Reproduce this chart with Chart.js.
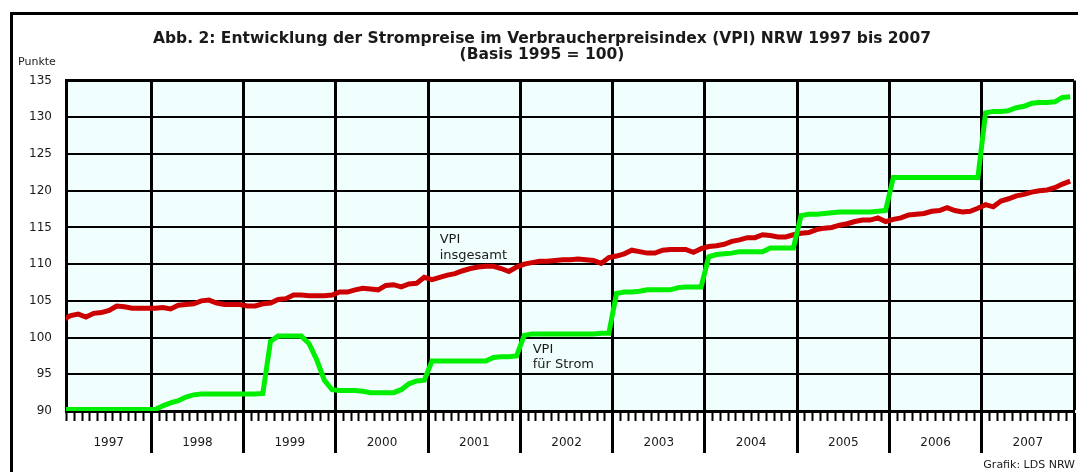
<!DOCTYPE html>
<html>
<head>
<meta charset="utf-8">
<script src="https://cdn.jsdelivr.net/npm/chart.js@4.4.1/dist/chart.umd.min.js"></script>
<style>
  html, body { margin: 0; padding: 0; background: #ffffff; overflow: hidden; }
  canvas { display: block; }
</style>
</head>
<body>
<canvas id="c" width="1078" height="472" style="width:1078px;height:472px"></canvas>
<script>
// ---------- data ----------
const years = [1997, 1998, 1999, 2000, 2001, 2002, 2003, 2004, 2005, 2006, 2007];
const yTicks = [90, 95, 100, 105, 110, 115, 120, 125, 130, 135];

// VPI insgesamt (monthly, Jan 1997 - Dec 2007)
const vpiTotal = [
  102.4, 103.0, 103.2, 102.8, 103.3, 103.4, 103.7, 104.3, 104.2, 104.0, 104.0, 104.0,
  104.0, 104.1, 103.9, 104.4, 104.5, 104.6, 105.0, 105.1, 104.7, 104.5, 104.5, 104.5,
  104.3, 104.3, 104.6, 104.7, 105.2, 105.3, 105.8, 105.8, 105.7, 105.7, 105.7, 105.8,
  106.2, 106.2, 106.5, 106.7, 106.6, 106.5, 107.1, 107.2, 106.9, 107.3, 107.4, 108.2,
  107.9, 108.2, 108.5, 108.7, 109.1, 109.4, 109.6, 109.7, 109.7, 109.4, 109.0, 109.6,
  110.0, 110.2, 110.4, 110.4, 110.5, 110.6, 110.6, 110.7, 110.6, 110.5, 110.1, 110.9,
  111.1, 111.4, 111.9, 111.7, 111.5, 111.5, 111.9, 112.0, 112.0, 112.0, 111.6, 112.1,
  112.4, 112.5, 112.7, 113.1, 113.3, 113.6, 113.6, 114.0, 113.9, 113.7, 113.7, 114.0,
  114.2, 114.3, 114.7, 114.9, 115.0, 115.3, 115.5, 115.8, 116.0, 116.0, 116.3, 115.8,
  116.1, 116.3, 116.7, 116.8, 116.9, 117.2, 117.3, 117.7, 117.3, 117.1, 117.2, 117.6,
  118.1, 117.8, 118.6, 118.9, 119.3, 119.5, 119.8, 120.0, 120.1, 120.4, 120.9, 121.3
];

// VPI für Strom (monthly, Jan 1997 - Dec 2007)
const vpiStrom = [
  90.2, 90.2, 90.2, 90.2, 90.2, 90.2, 90.2, 90.2, 90.2, 90.2, 90.2, 90.2,
  90.2, 90.7, 91.1, 91.4, 91.9, 92.2, 92.3, 92.3, 92.3, 92.3, 92.3, 92.3,
  92.3, 92.3, 92.4, 99.5, 100.2, 100.2, 100.2, 100.2, 99.2, 97.0, 94.2, 92.9,
  92.8, 92.8, 92.8, 92.7, 92.5, 92.5, 92.5, 92.5, 92.9, 93.7, 94.1, 94.2,
  96.8, 96.8, 96.8, 96.8, 96.8, 96.8, 96.8, 96.8, 97.3, 97.4, 97.4, 97.5,
  100.3, 100.5, 100.5, 100.5, 100.5, 100.5, 100.5, 100.5, 100.5, 100.5, 100.6, 100.6,
  106.0, 106.2, 106.2, 106.3, 106.5, 106.5, 106.5, 106.5, 106.8, 106.9, 106.9, 106.9,
  111.0, 111.3, 111.4, 111.5, 111.7, 111.7, 111.7, 111.7, 112.2, 112.2, 112.2, 112.2,
  116.6, 116.8, 116.8, 116.9, 117.0, 117.1, 117.1, 117.1, 117.1, 117.1, 117.2, 117.3,
  121.8, 121.8, 121.8, 121.8, 121.8, 121.8, 121.8, 121.8, 121.8, 121.8, 121.8, 121.8,
  130.6, 130.8, 130.8, 130.9, 131.3, 131.5, 131.9, 132.0, 132.0, 132.1, 132.7, 132.8
];

const titleLines = [
  'Abb. 2: Entwicklung der Strompreise im Verbraucherpreisindex (VPI) NRW 1997 bis 2007',
  '(Basis 1995 = 100)'
];
const yUnit = 'Punkte';
const source = 'Grafik: LDS NRW';
const labelTotal = ['VPI', 'insgesamt'];
const labelStrom = ['VPI', 'für Strom'];

// ---------- chart ----------
const X_MIN = 0.9, X_MAX = years.length * 12;
const FONT = '"DejaVu Sans", "Open Sans", sans-serif';
const TXT = '#1a1a1a';

const toPoints = arr => arr.map((v, i) => ({ x: i + 0.5, y: v }));

const bgPlugin = {
  id: 'bg',
  beforeDraw(chart) {
    const { ctx, chartArea: a } = chart;
    ctx.save();
    ctx.fillStyle = '#f0fefe';
    ctx.fillRect(a.left, a.top, a.right - a.left, a.bottom - a.top);
    ctx.restore();
  }
};

const textPlugin = {
  id: 'texts',
  afterDraw(chart) {
    const { ctx } = chart;
    const xs = chart.scales.x, ys = chart.scales.y;
    ctx.save();
    // outer frame
    ctx.fillStyle = '#000';
    ctx.fillRect(10, 12, 3, 472);
    ctx.fillRect(10, 12, 1078, 3);

    ctx.fillStyle = TXT;
    ctx.textBaseline = 'middle';
    ctx.textAlign = 'left';
    ctx.font = '11px ' + FONT;
    ctx.fillText(yUnit, 18, 62);

    ctx.font = '13px ' + FONT;
    let ax = xs.getPixelForValue(49.5), ay = ys.getPixelForValue(113.3);
    ctx.fillText(labelTotal[0], ax, ay);
    ctx.fillText(labelTotal[1], ax, ay + 16);
    ax = xs.getPixelForValue(61.6); ay = ys.getPixelForValue(98.3);
    ctx.fillText(labelStrom[0], ax, ay);
    ctx.fillText(labelStrom[1], ax, ay + 15);

    ctx.textAlign = 'right';
    ctx.font = '11px ' + FONT;
    ctx.fillText(source, 1075, 465);
    ctx.restore();
  }
};

new Chart(document.getElementById('c'), {
  type: 'line',
  data: {
    datasets: [
      { label: 'VPI insgesamt', data: toPoints(vpiTotal), borderColor: '#cc0000',
        borderWidth: 5, pointRadius: 0, tension: 0, clip: 0, order: 1 },
      { label: 'VPI für Strom', data: toPoints(vpiStrom), borderColor: '#00ee00',
        borderWidth: 5, pointRadius: 0, tension: 0, clip: 0, order: 0 }
    ]
  },
  options: {
    responsive: false,
    animation: false,
    devicePixelRatio: 1,
    layout: { padding: { left: 10, right: 4, top: 0, bottom: 0 } },
    plugins: {
      legend: { display: false },
      tooltip: { enabled: false },
      title: {
        display: true,
        text: titleLines,
        color: TXT,
        font: { family: FONT, size: 15.5, weight: 'bold', lineHeight: 1.05 },
        padding: { top: 31, bottom: 17 }
      }
    },
    scales: {
      x: {
        type: 'linear', position: 'bottom', weight: 0,
        min: X_MIN, max: X_MAX,
        afterBuildTicks(scale) {
          const t = [];
          for (let m = 1; m <= X_MAX; m++) t.push({ value: m });
          scale.ticks = t;
        },
        afterFit(scale) { scale.height = 10; },
        ticks: { display: false, autoSkip: false },
        grid: {
          drawOnChartArea: true,
          color: c => (c.tick && c.tick.value % 12 === 0) ? '#000' : 'rgba(0,0,0,0)',
          lineWidth: c => (c.tick && c.tick.value % 12 === 0) ? 3 : 1,
          tickColor: '#000',
          tickWidth: c => (c.tick && c.tick.value % 12 === 0) ? 3 : 2,
          tickLength: 10
        },
        border: { display: true, color: '#000', width: 3 }
      },
      xYear: {
        type: 'linear', position: 'bottom', weight: 1,
        min: X_MIN, max: X_MAX,
        afterBuildTicks(scale) {
          const t = [];
          years.forEach((yr, i) => {
            const start = Math.max(i * 12, X_MIN);
            t.push({ value: (start + (i + 1) * 12) / 2 });
            t.push({ value: (i + 1) * 12 });
          });
          scale.ticks = t;
        },
        afterFit(scale) { scale.height = 51; },
        ticks: {
          autoSkip: false, maxRotation: 0, minRotation: 0,
          padding: -17,
          color: TXT,
          font: { family: FONT, size: 12 },
          callback: v => (v % 12 === 0) ? '' : String(years[Math.floor(v / 12)])
        },
        grid: {
          drawOnChartArea: false,
          color: c => (c.tick && c.tick.value % 12 === 0) ? '#000' : 'rgba(0,0,0,0)',
          lineWidth: 3,
          tickLength: 32
        },
        border: { display: false }
      },
      y: {
        type: 'linear', min: yTicks[0], max: yTicks[yTicks.length - 1],
        afterBuildTicks(scale) { scale.ticks = yTicks.map(v => ({ value: v })); },
        afterFit(scale) { scale.width = 56; },
        ticks: {
          padding: 14, color: TXT,
          font: { family: FONT, size: 12 }
        },
        grid: {
          color: '#000',
          lineWidth: c => (c.tick && (c.tick.value === 135 || c.tick.value === 90)) ? 3 : 2,
          drawTicks: false
        },
        border: { display: true, color: '#000', width: 3 }
      }
    }
  },
  plugins: [bgPlugin, textPlugin]
});
</script>
</body>
</html>
